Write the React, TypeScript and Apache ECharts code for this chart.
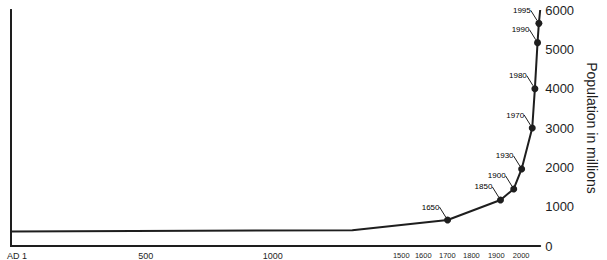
import React, { useEffect, useRef } from "react";
import * as echarts from "echarts";

// Data
const years = [1, 1290, 1650, 1850, 1900, 1930, 1970, 1980, 1990, 1995, 2000];
const population = [370, 400, 660, 1170, 1450, 1960, 3000, 4000, 5170, 5660, 6000];
const labelledYears = [1650, 1850, 1900, 1930, 1970, 1980, 1990, 1995];

// X tick labels and where they sit along the axis (the original's labels are squeezed near 2000)
const xTickLabels = ["AD 1", "500", "1000", "1500", "1600", "1700", "1800", "1900", "2000"];
const xTickAt = [23, 509, 989, 1475, 1558, 1649, 1740, 1834, 1928];

const yTicks = [0, 1000, 2000, 3000, 4000, 5000, 6000];

const FONT = "'Liberation Sans', Arial, Helvetica, sans-serif";
const INK = "#1e1e1e";

export default function App() {
  const ref = useRef<HTMLDivElement>(null);

  useEffect(() => {
    if (!ref.current) return;
    const chart = echarts.init(ref.current, undefined, { renderer: "svg" });

    const seriesData = years.map((y, i) => {
      const labelled = labelledYears.includes(y);
      return {
        value: [y, population[i]],
        symbol: labelled ? "circle" : "none",
        symbolSize: labelled ? 7 : 0,
        label: { show: labelled },
        labelLine: { show: labelled },
      };
    });

    chart.setOption({
      animation: false,
      backgroundColor: "#ffffff",
      grid: { left: 11, right: 66, top: 10, bottom: 14 },
      xAxis: {
        type: "value",
        min: 0,
        max: 2000,
        axisLine: { show: true, onZero: false, lineStyle: { color: INK, width: 2 } },
        axisTick: { show: false },
        splitLine: { show: false },
        axisLabel: {
          customValues: xTickAt,
          margin: 5,
          color: INK,
          fontFamily: FONT,
          formatter: (v: number) => {
            const i = xTickAt.indexOf(v);
            if (i < 0) return "";
            return i < 3 ? `{a|${xTickLabels[i]}}` : `{b|${xTickLabels[i]}}`;
          },
          rich: {
            a: { fontSize: 9, fontFamily: FONT, color: INK },
            b: { fontSize: 7.5, fontFamily: FONT, color: INK },
          },
        },
      },
      yAxis: [
        {
          type: "value",
          position: "right",
          min: yTicks[0],
          max: yTicks[yTicks.length - 1],
          interval: 1000,
          axisLine: { show: true, lineStyle: { color: INK, width: 2 } },
          axisTick: { show: false },
          splitLine: { show: false },
          axisLabel: {
            fontSize: 13,
            color: INK,
            fontFamily: FONT,
            margin: 5,
            formatter: (v: number) => String(v),
          },
          name: "Population in millions",
          nameLocation: "middle",
          nameRotate: -90,
          nameGap: 40,
          nameTextStyle: { fontSize: 14, color: INK, fontFamily: FONT },
        },
        {
          type: "value",
          position: "left",
          min: 0,
          max: 6000,
          axisLine: { show: true, lineStyle: { color: INK, width: 2 } },
          axisTick: { show: false },
          axisLabel: { show: false },
          splitLine: { show: false },
        },
      ],
      series: [
        {
          type: "line",
          data: seriesData,
          yAxisIndex: 0,
          lineStyle: { color: INK, width: 2 },
          itemStyle: { color: INK },
          label: {
            show: false,
            position: "inside",
            fontSize: 8,
            fontFamily: FONT,
            color: "#000000",
            formatter: (p: any) => String(p.value[0]),
          },
          labelLine: { show: false, lineStyle: { color: INK, width: 1 } },
          labelLayout: { dx: -17, dy: -13 },
        },
      ],
    });

    return () => chart.dispose();
  }, []);

  return (
    <div
      ref={ref}
      style={{ position: "fixed", left: 0, top: 0, width: 607, height: 260, background: "#fff" }}
    />
  );
}
